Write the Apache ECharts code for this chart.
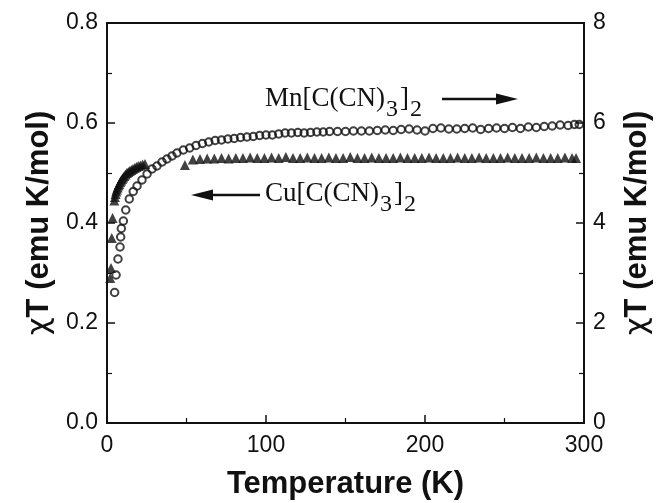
<!DOCTYPE html>
<html><head><meta charset="utf-8">
<script src="https://cdn.jsdelivr.net/npm/echarts@6/dist/echarts.min.js"></script>
<style>html,body{margin:0;padding:0;background:#fff}#c{width:657px;height:503px}</style>
</head><body><div id="c"></div>
<script>
// Mn[C(CN)3]2 : chi*T (right axis, emu K/mol)
const T_mn = [4.8, 5.7, 6.9, 8.2, 8.6, 9.0, 10.3, 11.8, 14.0, 16.5, 18.9, 22.0, 25.2, 28.3, 31.4, 34.6, 37.7, 40.9, 44,
  48, 52, 56, 60, 64, 68, 72, 76, 80, 84, 88, 92, 96, 100, 104, 108, 112, 116, 120, 124, 128, 132, 136, 140,
  145, 150, 155, 160, 165, 170, 175, 180, 185, 190, 195, 200, 205, 210, 215, 220, 225, 230, 235, 240, 245,
  250, 255, 260, 265, 270, 275, 280, 285, 290, 294, 297];
const chi_mn = [2.61, 2.96, 3.28, 3.52, 3.72, 3.89, 4.04, 4.26, 4.48, 4.63, 4.74, 4.86, 4.98, 5.08, 5.14, 5.22, 5.28, 5.34, 5.40,
  5.46, 5.50, 5.55, 5.59, 5.62, 5.65, 5.66, 5.68, 5.69, 5.71, 5.72, 5.73, 5.75, 5.76, 5.76, 5.78, 5.80, 5.80, 5.81, 5.80, 5.81, 5.82, 5.82, 5.83,
  5.83, 5.83, 5.84, 5.84, 5.84, 5.85, 5.86, 5.85, 5.87, 5.88, 5.86, 5.84, 5.89, 5.90, 5.88, 5.88, 5.89, 5.90, 5.87, 5.89, 5.90,
  5.89, 5.91, 5.89, 5.92, 5.91, 5.93, 5.94, 5.96, 5.95, 5.97, 5.97];

// Cu[C(CN)3]2 : chi*T (left axis, emu K/mol)
const T_cu = [2.0, 2.5, 3.0, 3.5, 4.6, 5.0, 5.4, 5.8, 6.2, 6.7, 7.2, 7.7, 8.3, 8.9, 9.5, 10.2, 10.9, 11.7, 12.5, 13.4,
  14.3, 15.3, 16.3, 17.4, 18.5, 19.7, 21.0, 22.4, 23.9, 49,
  54, 58.5, 63, 67.5, 72, 76.5, 81, 85.5, 90, 94.5, 99, 103.5, 108, 112.5, 117, 121.5, 126, 130.5, 135, 139.5,
  144, 148.5, 153, 157.5, 162, 166.5, 171, 175.5, 180, 184.5, 189, 193.5, 198, 202.5, 207, 211.5, 216, 220.5,
  225, 229.5, 234, 238.5, 243, 247.5, 252, 256.5, 261, 265.5, 270, 274.5, 279, 283.5, 288, 292.5, 295];
const chi_cu = [0.29, 0.31, 0.37, 0.41, 0.445, 0.452, 0.458, 0.463, 0.467, 0.471, 0.475, 0.478, 0.482, 0.485, 0.488, 0.491, 0.494, 0.497, 0.500, 0.502,
  0.504, 0.506, 0.508, 0.510, 0.512, 0.514, 0.515, 0.517, 0.518, 0.516,
  0.527, 0.528, 0.529, 0.529, 0.530, 0.529, 0.530, 0.530, 0.531, 0.530, 0.530, 0.531, 0.530, 0.532, 0.530, 0.530, 0.531, 0.530, 0.530, 0.531,
  0.530, 0.530, 0.532, 0.530, 0.530, 0.531, 0.530, 0.530, 0.530, 0.531, 0.530, 0.530, 0.530, 0.531, 0.530, 0.530, 0.530, 0.531,
  0.530, 0.530, 0.531, 0.530, 0.530, 0.530, 0.531, 0.530, 0.530, 0.530, 0.531, 0.530, 0.530, 0.530, 0.531, 0.530, 0.530];

const xName = 'Temperature (K)';
const yName = '{c|χ}T (emu K/mol)';
const mnLabel = [['Mn[C(CN)', false], ['3', true], [']', false], ['2', true]];
const cuLabel = [['Cu[C(CN)', false], ['3', true], [']', false], ['2', true]];

const chart = echarts.init(document.getElementById('c'), null, {renderer: 'canvas'});

const MAIN_FONT = '27px "Liberation Serif"';
const SUB_FONT = '24px "Liberation Serif"';
const mctx = document.createElement('canvas').getContext('2d');
function formula(x, y, parts) {
  const out = [];
  let cx = x;
  parts.forEach(([t, sub], i) => {
    const font = sub ? SUB_FONT : MAIN_FONT;
    mctx.font = font;
    out.push({type: 'text', x: cx, y: sub ? y + 11 : y, z: 100,
      style: {text: t, font: font, fill: '#111', align: 'left', verticalAlign: 'middle'}});
    cx += mctx.measureText(t).width + (sub ? 2 : 1);
  });
  return out;
}
function arrow(x1, x2, y, dir) {
  const tip = dir > 0 ? x2 : x1;
  const base = tip - dir * 22;
  const lineFrom = dir > 0 ? x1 : base;
  const lineTo = dir > 0 ? base : x2;
  return [
    {type: 'line', shape: {x1: lineFrom, y1: y, x2: lineTo, y2: y}, style: {stroke: '#111', lineWidth: 2.5}, z: 100},
    {type: 'polygon', shape: {points: [[tip, y], [base, y - 5.5], [base, y + 5.5]]}, style: {fill: '#111'}, z: 100}
  ];
}

const nameStyle = {color: '#111', fontSize: 31, fontWeight: 'bold', fontFamily: 'Liberation Sans',
  rich: {c: {fontSize: 31, fontWeight: 'normal', fontFamily: 'DejaVu Sans', color: '#111'}}};

const axisCommon = {
  axisLine: {show: true, lineStyle: {color: '#111', width: 2}},
  axisTick: {show: true, inside: true, length: 8, lineStyle: {color: '#111', width: 1.5}},
  minorTick: {show: true, splitNumber: 2, length: 5, lineStyle: {color: '#111', width: 1.2}},
  splitLine: {show: false},
  minorSplitLine: {show: false},
  axisLabel: {color: '#111', fontSize: 23, fontFamily: 'Liberation Sans'},
  nameTextStyle: nameStyle
};

chart.setOption({
  animation: false,
  backgroundColor: '#fff',
  grid: {left: 107, right: 73, top: 23, bottom: 80, show: true, borderColor: '#111', borderWidth: 2,
    backgroundColor: 'transparent', outerBoundsMode: 'none', containLabel: false},
  xAxis: Object.assign({}, axisCommon, {
    type: 'value', min: 0, max: 300, interval: 100,
    name: xName, nameLocation: 'middle', nameGap: 46,
    axisLabel: Object.assign({}, axisCommon.axisLabel, {margin: 11})
  }),
  yAxis: [
    Object.assign({}, axisCommon, {
      type: 'value', min: 0, max: 0.8, interval: 0.2, position: 'left',
      name: yName, nameLocation: 'middle', nameGap: 52, nameRotate: 90,
      axisLabel: Object.assign({}, axisCommon.axisLabel, {margin: 9, formatter: v => v.toFixed(1)})
    }),
    Object.assign({}, axisCommon, {
      type: 'value', min: 0, max: 8, interval: 2, position: 'right',
      name: yName, nameLocation: 'middle', nameGap: 38, nameRotate: 90,
      axisLabel: Object.assign({}, axisCommon.axisLabel, {margin: 9})
    })
  ],
  series: [
    {type: 'scatter', yAxisIndex: 0, symbol: 'triangle', symbolSize: 10,
      itemStyle: {color: '#111'},
      data: T_cu.map((t, i) => [t, chi_cu[i]])},
    {type: 'scatter', yAxisIndex: 1, symbol: 'circle', symbolSize: 7.5,
      itemStyle: {color: 'rgba(255,255,255,0)', borderColor: '#111', borderWidth: 2},
      data: T_mn.map((t, i) => [t, chi_mn[i]])}
  ],
  graphic: [].concat(
    formula(265, 99, mnLabel),
    arrow(442, 518, 99, 1),
    formula(265, 194, cuLabel),
    arrow(191, 260, 195, -1)
  )
});
</script></body></html>
